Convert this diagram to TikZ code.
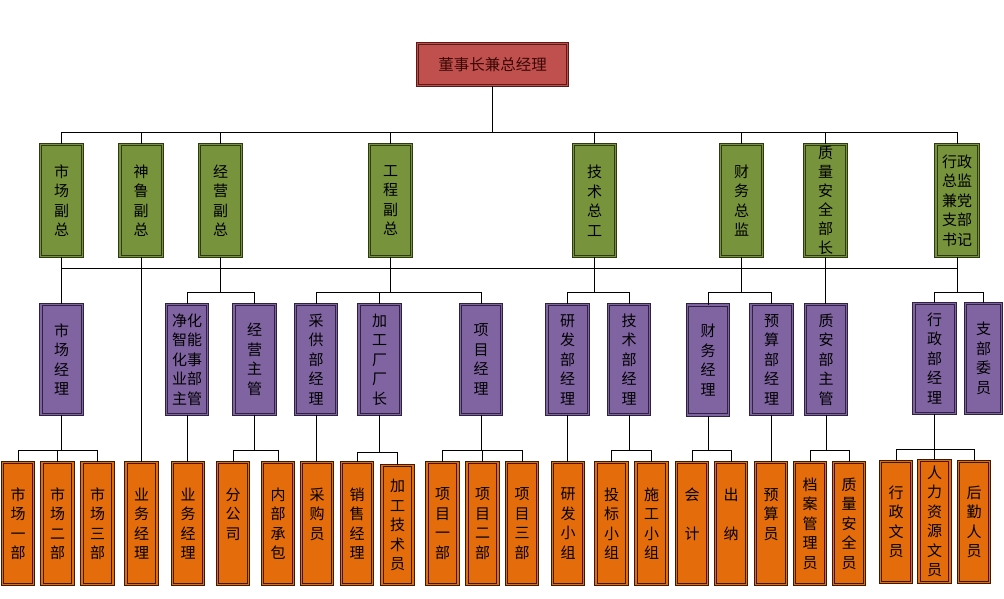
\documentclass[tikz,border=0pt]{standalone}
\usepackage{fontspec}
\newfontfamily\cjk{Noto Sans CJK SC}
\definecolor{topred}{HTML}{C0504D}
\definecolor{topdark}{HTML}{5A1A18}
\definecolor{toptext}{HTML}{3A0806}
\definecolor{ggreen}{HTML}{77933C}
\definecolor{gdark}{HTML}{2E3A14}
\definecolor{ppurple}{HTML}{8064A2}
\definecolor{pdark}{HTML}{2E2240}
\definecolor{oorange}{HTML}{E46C0A}
\definecolor{odark}{HTML}{3A1A05}
\tikzset{
  boxbase/.style={rectangle, inner sep=0pt, align=center,
    font=\cjk\fontsize{15}{19.5}\selectfont, line width=1pt, double distance=1.3pt},
  topbox/.style={boxbase, draw=topdark, double=topred, fill=topred, text=toptext,
    minimum width=150pt, minimum height=42pt, font=\cjk\fontsize{15.5}{19}\selectfont},
  gbox/.style={boxbase, draw=gdark, double=ggreen, fill=ggreen, text=black,
    minimum width=42.3pt, minimum height=112pt},
  pbox/.style={boxbase, draw=pdark, double=ppurple, fill=ppurple, text=black,
    minimum width=41.3pt, minimum height=110pt},
  obox/.style={boxbase, draw=odark, double=oorange, fill=oorange, text=black,
    minimum width=30.8pt, minimum height=122pt},
  wire/.style={line width=1pt, black}
}
\begin{document}
\begin{tikzpicture}[x=1pt,y=-1pt]
\useasboundingbox (0,0) rectangle (1004,598);
% top
\node[topbox] (top) at (492.5,64.5) {董事长兼总经理};
% green row
\node[gbox] (g1) at (61.5,200.5) {市\\场\\副\\总};
\node[gbox] (g2) at (141,200.5) {神\\鲁\\副\\总};
\node[gbox] (g3) at (220.5,200.5) {经\\营\\副\\总};
\node[gbox] (g4) at (390.5,200.5) {工\\程\\副\\总};
\node[gbox] (g5) at (594.5,200.5) {技\\术\\总\\工};
\node[gbox] (g6) at (741.5,200.5) {财\\务\\总\\监};
\node[gbox, font=\cjk\fontsize{15}{19}\selectfont] (g7) at (825.5,200.5) {质\\量\\安\\全\\部\\长};
\node[gbox] (g8) at (957,200.5) {行政\\总监\\兼党\\支部\\书记};
% purple row
\node[pbox] (pm1) at (61.5,359.5) {市\\场\\经\\理};
\node[pbox] (pm2) at (187,359.5) {净化\\智能\\化事\\业部\\主管};
\node[pbox] (pm3) at (254.5,359.5) {经\\营\\主\\管};
\node[pbox] (pm4) at (316,359.5) {采\\供\\部\\经\\理};
\node[pbox] (pm5) at (379.5,359.5) {加\\工\\厂\\厂\\长};
\node[pbox] (pm6) at (481,359.5) {项\\目\\经\\理};
\node[pbox] (pm7) at (567.5,359.5) {研\\发\\部\\经\\理};
\node[pbox] (pm8) at (629,359.5) {技\\术\\部\\经\\理};
\node[pbox] (pm9) at (708,360) {财\\务\\经\\理};
\node[pbox] (pm10) at (771.5,359.5) {预\\算\\部\\经\\理};
\node[pbox] (pm11) at (826,359.5) {质\\安\\部\\主\\管};
\node[pbox] (pm12) at (934.5,358.5) {行\\政\\部\\经\\理};
\node[pbox, minimum width=36pt] (pm13) at (983.5,358.5) {支\\部\\委\\员};
% orange row
\node[obox] (o1) at (18,523.5) {市\\场\\一\\部};
\node[obox] (o2) at (57.5,523.5) {市\\场\\二\\部};
\node[obox] (o3) at (97.5,523.5) {市\\场\\三\\部};
\node[obox] (o4) at (141.5,523.5) {业\\务\\经\\理};
\node[obox] (o5) at (188,523.5) {业\\务\\经\\理};
\node[obox] (o6) at (233,523.5) {分\\公\\司\\\mbox{}};
\node[obox] (o7) at (278,523.5) {内\\部\\承\\包};
\node[obox] (o8) at (317,523.5) {采\\购\\员\\\mbox{}};
\node[obox] (o9) at (357,523.5) {销\\售\\经\\理};
\node[obox, minimum height=119pt] (o10) at (397.5,525) {加\\工\\技\\术\\员};
\node[obox] (o11) at (442.5,523.5) {项\\目\\一\\部};
\node[obox] (o12) at (482.5,523.5) {项\\目\\二\\部};
\node[obox] (o13) at (522,523.5) {项\\目\\三\\部};
\node[obox] (o14) at (568,523.5) {研\\发\\小\\组};
\node[obox] (o15) at (611.5,523.5) {投\\标\\小\\组};
\node[obox] (o16) at (651.5,523.5) {施\\工\\小\\组};
\node[obox] (o17) at (692,523.5) {会\\\mbox{}\\计\\\mbox{}};
\node[obox] (o18) at (731,523.5) {出\\\mbox{}\\纳\\\mbox{}};
\node[obox] (o19) at (771,523.5) {预\\算\\员\\\mbox{}};
\node[obox] (o20) at (810,523.5) {档\\案\\管\\理\\员};
\node[obox] (o21) at (849,523.5) {质\\量\\安\\全\\员};
\node[obox, minimum height=121pt] (o22) at (896,522) {行\\政\\文\\员};
\node[obox, minimum height=122pt] (o23) at (934.5,521.5) {人\\力\\资\\源\\文\\员};
\node[obox, minimum height=121pt] (o24) at (974,522) {后\\勤\\人\\员};
% bus coordinates
\coordinate (b1) at (0,132);
\coordinate (b2) at (0,268);
\coordinate (b3) at (0,292);
\coordinate (b4) at (0,450);
\coordinate (b4b) at (0,452);
\coordinate (b4c) at (0,449);
% top to green
\draw[wire] (top.south) -- (top.south |- b1);
\draw[wire] (g1.north |- b1) -- (g8.north |- b1);
\foreach \n in {g1,g2,g3,g4,g5,g6,g7,g8} \draw[wire] (\n.north) -- (\n.north |- b1);
% green bus
\draw[wire] (g1.south |- b2) -- (g8.south |- b2);
\draw[wire] (g1.south) -- (g1.south |- pm1.north);
\draw[wire] (g2.south) -- (g2.south |- o4.north);
\draw[wire] (g3.south) -- (g3.south |- b3);
\draw[wire] (g4.south) -- (g4.south |- b3);
\draw[wire] (g5.south) -- (g5.south |- b3);
\draw[wire] (g6.south) -- (g6.south |- b3);
\draw[wire] (g7.south) -- (g7.south |- pm11.north);
\draw[wire] (g8.south) -- (g8.south |- b3);
% purple sub-buses
\draw[wire] (pm2.north |- b3) -- (pm3.north |- b3);
\draw[wire] (pm4.north |- b3) -- (pm6.north |- b3);
\draw[wire] (pm7.north |- b3) -- (pm8.north |- b3);
\draw[wire] (pm9.north |- b3) -- (pm10.north |- b3);
\draw[wire] (pm12.north |- b3) -- (pm13.north |- b3);
\foreach \n in {pm2,pm3,pm4,pm5,pm6,pm7,pm8,pm9,pm10,pm12,pm13} \draw[wire] (\n.north) -- (\n.north |- b3);
% purple to orange
\draw[wire] (pm1.south) -- (pm1.south |- b4);
\draw[wire] (o1.north |- b4) -- (o3.north |- b4);
\foreach \n in {o1,o2,o3} \draw[wire] (\n.north) -- (\n.north |- b4);
\draw[wire] (pm2.south) -- (pm2.south |- o5.north);
\draw[wire] (pm3.south) -- (pm3.south |- b4);
\draw[wire] (o6.north |- b4) -- (o7.north |- b4);
\foreach \n in {o6,o7} \draw[wire] (\n.north) -- (\n.north |- b4);
\draw[wire] (pm4.south) -- (pm4.south |- o8.north);
\draw[wire] (pm5.south) -- (pm5.south |- b4b);
\draw[wire] (o9.north |- b4b) -- (o10.north |- b4b);
\draw[wire] (o9.north) -- (o9.north |- b4b);
\draw[wire] (o10.north) -- (o10.north |- b4b);
\draw[wire] (pm6.south) -- (pm6.south |- b4);
\draw[wire] (o11.north |- b4) -- (o13.north |- b4);
\foreach \n in {o11,o12,o13} \draw[wire] (\n.north) -- (\n.north |- b4);
\draw[wire] (pm7.south) -- (pm7.south |- o14.north);
\draw[wire] (pm8.south) -- (pm8.south |- b4);
\draw[wire] (o15.north |- b4) -- (o16.north |- b4);
\foreach \n in {o15,o16} \draw[wire] (\n.north) -- (\n.north |- b4);
\draw[wire] (pm9.south) -- (pm9.south |- b4);
\draw[wire] (o17.north |- b4) -- (o18.north |- b4);
\foreach \n in {o17,o18} \draw[wire] (\n.north) -- (\n.north |- b4);
\draw[wire] (pm10.south) -- (pm10.south |- o19.north);
\draw[wire] (pm11.south) -- (pm11.south |- b4);
\draw[wire] (o20.north |- b4) -- (o21.north |- b4);
\foreach \n in {o20,o21} \draw[wire] (\n.north) -- (\n.north |- b4);
\draw[wire] (pm12.south) -- (pm12.south |- b4c);
\draw[wire] (o22.north |- b4c) -- (o24.north |- b4c);
\foreach \n in {o22,o23,o24} \draw[wire] (\n.north) -- (\n.north |- b4c);
\end{tikzpicture}
\end{document}
